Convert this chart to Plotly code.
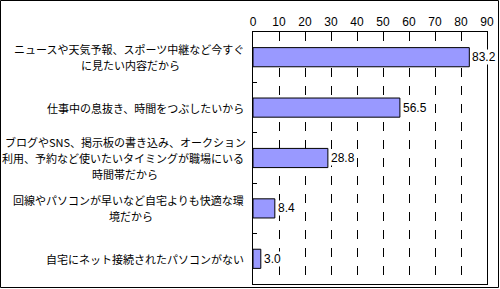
import plotly.graph_objects as go

categories = [
    "ニュースや天気予報、スポーツ中継など今すぐ<br>に見たい内容だから",
    "仕事中の息抜き、時間をつぶしたいから",
    "ブログやSNS、掲示板の書き込み、オークション<br>利用、予約など使いたいタイミングが職場にいる<br>時間帯だから",
    "回線やパソコンが早いなど自宅よりも快適な環<br>境だから",
    "自宅にネット接続されたパソコンがない",
]
values = [83.2, 56.5, 28.8, 8.4, 3.0]
tick_vals = [0, 10, 20, 30, 40, 50, 60, 70, 80, 90]

W, H = 500, 289
L, R, T, B = 253, 13, 32, 5
pw, ph = W - L - R, H - T - B
FS = 11
LINE_H = 16
RIGHT_PX = 7  # gap between label block and axis


def est_width(s):
    return sum(FS if ord(ch) > 127 else FS * 0.62 for ch in s)


fig = go.Figure(go.Bar(
    y=categories, x=values, orientation="h",
    marker=dict(color="#9999FF", line=dict(color="black", width=1)),
))

annotations = []
lab_font = dict(family="Noto Sans CJK JP", size=FS, color="black")
for c in categories:
    lines = c.split("<br>")
    n = len(lines)
    widths = [est_width(s) for s in lines]
    wmax = max(widths)
    for i, s in enumerate(lines):
        yshift = ((n - 1) / 2 - i) * LINE_H
        if widths[i] == wmax:
            annotations.append(dict(
                x=-RIGHT_PX / pw, xref="paper", y=c, yref="y", text=s,
                showarrow=False, xanchor="right", yshift=yshift, font=lab_font,
            ))
        else:
            annotations.append(dict(
                x=(-RIGHT_PX - wmax / 2) / pw, xref="paper", y=c, yref="y",
                text=s, showarrow=False, xanchor="center", yshift=yshift,
                font=lab_font,
            ))
for c, v in zip(categories, values):
    annotations.append(dict(
        x=v, xref="x", y=c, yref="y", text=f"{v:.1f}", showarrow=False,
        xanchor="left", xshift=2, bgcolor="white", borderpad=0,
        font=dict(family="Liberation Sans, Arial", size=12, color="black"),
    ))

shapes = [dict(
    type="rect", xref="paper", yref="paper",
    x0=(0.5 - L) / pw, x1=(498.5 - L) / pw,
    y0=(T + ph - 287.5) / ph, y1=(T + ph - 0.5) / ph,
    line=dict(color="black", width=1), layer="below",
)]

fig.update_layout(
    width=W, height=H, margin=dict(l=L, r=R, t=T, b=B),
    paper_bgcolor="white", plot_bgcolor="white",
    bargap=0.62, showlegend=False,
    annotations=annotations, shapes=shapes,
    xaxis=dict(
        side="top", range=[0, 90], tickvals=tick_vals,
        showgrid=True, gridcolor="black", griddash="dash", gridwidth=1,
        showline=True, linecolor="black", linewidth=1, mirror=True,
        ticks="", zeroline=False,
        tickfont=dict(family="Liberation Sans, Arial", size=12, color="black"),
    ),
    yaxis=dict(
        autorange="reversed", showticklabels=False,
        ticks="inside", ticklen=4, tickcolor="black", tickson="boundaries",
        showline=True, linecolor="black", linewidth=1, mirror=True,
        showgrid=False,
    ),
)

fig.write_html("out.html")
